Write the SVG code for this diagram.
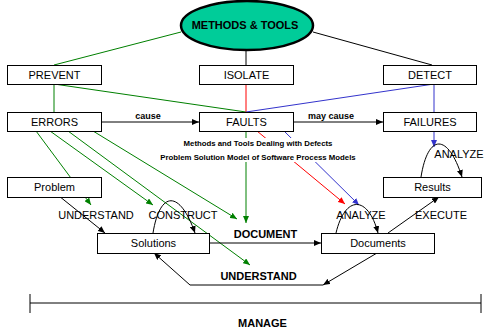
<svg xmlns="http://www.w3.org/2000/svg" width="484" height="328" viewBox="0 0 484 328">
<style>
.box{fill:#fff;stroke:#000;stroke-width:1}
.t{font-family:"Liberation Sans",Arial,sans-serif;font-size:11px;fill:#000;text-anchor:middle}
.b{font-weight:bold}
.s{font-size:9px}
.xs{font-size:7.8px}
.k{stroke:#000;stroke-width:1;fill:none}
.g{stroke:#008000;stroke-width:1;fill:none}
.r{stroke:#FF0000;stroke-width:1;fill:none}
.u{stroke:#3333CC;stroke-width:1;fill:none}
</style>
<defs>
<marker id="ak" markerUnits="userSpaceOnUse" markerWidth="7" markerHeight="6" refX="7" refY="3" orient="auto"><path d="M0,0 L7,3 L0,6 z" fill="#000"/></marker>
<marker id="ag" markerUnits="userSpaceOnUse" markerWidth="7" markerHeight="6" refX="7" refY="3" orient="auto"><path d="M0,0 L7,3 L0,6 z" fill="#008000"/></marker>
<marker id="ar" markerUnits="userSpaceOnUse" markerWidth="7" markerHeight="6" refX="7" refY="3" orient="auto"><path d="M0,0 L7,3 L0,6 z" fill="#FF0000"/></marker>
<marker id="au" markerUnits="userSpaceOnUse" markerWidth="7" markerHeight="6" refX="7" refY="3" orient="auto"><path d="M0,0 L7,3 L0,6 z" fill="#3333CC"/></marker>
</defs>
<rect width="484" height="328" fill="#fff"/>
<g id="connectors">
<line class="g" x1="181" y1="32" x2="54" y2="65"/>
<line class="k" x1="246" y1="50" x2="246" y2="65"/>
<line class="k" x1="313" y1="32" x2="432" y2="65"/>
<line class="g" x1="54" y1="84" x2="54" y2="112"/>
<line class="g" x1="54" y1="84" x2="246" y2="112"/>
<line class="r" x1="246" y1="84" x2="246" y2="112"/>
<line class="u" x1="434" y1="84" x2="246" y2="112"/>
<line class="u" x1="434" y1="84" x2="434" y2="112"/>
<line class="k" x1="101" y1="122" x2="199" y2="122" marker-end="url(#ak)"/>
<line class="k" x1="293" y1="122" x2="383" y2="122" marker-end="url(#ak)"/>
<line class="u" x1="434" y1="131" x2="434" y2="147" marker-end="url(#au)"/>
<line class="g" x1="36" y1="131" x2="91" y2="205" marker-end="url(#ag)"/>
<line class="g" x1="50" y1="131" x2="153" y2="205" marker-end="url(#ag)"/>
<line class="g" x1="68" y1="131" x2="250" y2="265" marker-end="url(#ag)"/>
<line class="g" x1="93" y1="131" x2="237" y2="219" marker-end="url(#ag)"/>
<line class="g" x1="246" y1="131" x2="246" y2="223" marker-end="url(#ag)"/>
<line class="r" x1="257" y1="131" x2="345" y2="204" marker-end="url(#ar)"/>
<line class="u" x1="284" y1="131" x2="359" y2="205" marker-end="url(#au)"/>
<rect x="160" y="138" width="198" height="24" fill="#fff"/>
<text class="t b xs" x="258" y="146">Methods and Tools Dealing with Defects</text>
<text class="t b xs" x="258" y="160">Problem Solution Model of Software Process Models</text>
<text class="t b s" x="148" y="119">cause</text>
<text class="t b s" x="331" y="119">may cause</text>
<line class="k" x1="59" y1="196" x2="105" y2="233" marker-end="url(#ak)"/>
<path class="k" d="M153,233 C160,190 180,190 195,233" marker-end="url(#ak)"/>
<path class="k" d="M336,233 C345,195 368,195 378,233" marker-end="url(#ak)"/>
<path class="k" d="M421,177 C428,133 448,133 462,177" marker-end="url(#ak)"/>
<line class="k" x1="209" y1="243" x2="321" y2="243" marker-end="url(#ak)"/>
<line class="k" x1="388" y1="233" x2="439" y2="197" marker-end="url(#ak)"/>
<line class="k" x1="377" y1="253" x2="323" y2="285" marker-end="url(#ak)"/>
<path class="k" d="M323,285 L190,285 L154,253" marker-end="url(#ak)"/>
<text class="t" x="96" y="219">UNDERSTAND</text>
<text class="t" x="183" y="219">CONSTRUCT</text>
<text class="t" x="361" y="219">ANALYZE</text>
<text class="t" x="441" y="219">EXECUTE</text>
<text class="t" x="459" y="158">ANALYZE</text>
<text class="t b" x="265.5" y="238">DOCUMENT</text>
<text class="t b" x="258.5" y="280">UNDERSTAND</text>
<path class="k" d="M30,294 V313 M30,303 H481 M481,294 V313"/>
<text class="t b" x="262.5" y="327">MANAGE</text>
</g>
<g id="methods-tools">
<ellipse cx="247" cy="25.5" rx="66" ry="24.5" fill="#00CC99" stroke="#000" stroke-width="2.5"/>
<text class="t b" x="245" y="29">METHODS &amp; TOOLS</text>
</g>
<g id="prevent"><rect class="box" x="7.5" y="65.5" width="94" height="19"/><text class="t" x="54.5" y="79">PREVENT</text></g>
<g id="isolate"><rect class="box" x="199.5" y="65.5" width="94" height="19"/><text class="t" x="246.5" y="79">ISOLATE</text></g>
<g id="detect"><rect class="box" x="383.5" y="65.5" width="93" height="19"/><text class="t" x="430" y="79">DETECT</text></g>
<g id="errors"><rect class="box" x="7.5" y="112.5" width="94" height="19"/><text class="t" x="54.5" y="126">ERRORS</text></g>
<g id="faults"><rect class="box" x="199.5" y="112.5" width="94" height="19"/><text class="t" x="246.5" y="126">FAULTS</text></g>
<g id="failures"><rect class="box" x="383.5" y="112.5" width="93" height="19"/><text class="t" x="430" y="126">FAILURES</text></g>
<g id="problem"><rect class="box" x="7.5" y="177.5" width="94" height="20"/><text class="t" x="54.5" y="191">Problem</text></g>
<g id="solutions"><rect class="box" x="97.5" y="233.5" width="112" height="20"/><text class="t" x="153.5" y="247">Solutions</text></g>
<g id="documents"><rect class="box" x="321.5" y="233.5" width="113" height="20"/><text class="t" x="378" y="247">Documents</text></g>
<g id="results"><rect class="box" x="383.5" y="177.5" width="98" height="20"/><text class="t" x="432.5" y="191">Results</text></g>
</svg>
